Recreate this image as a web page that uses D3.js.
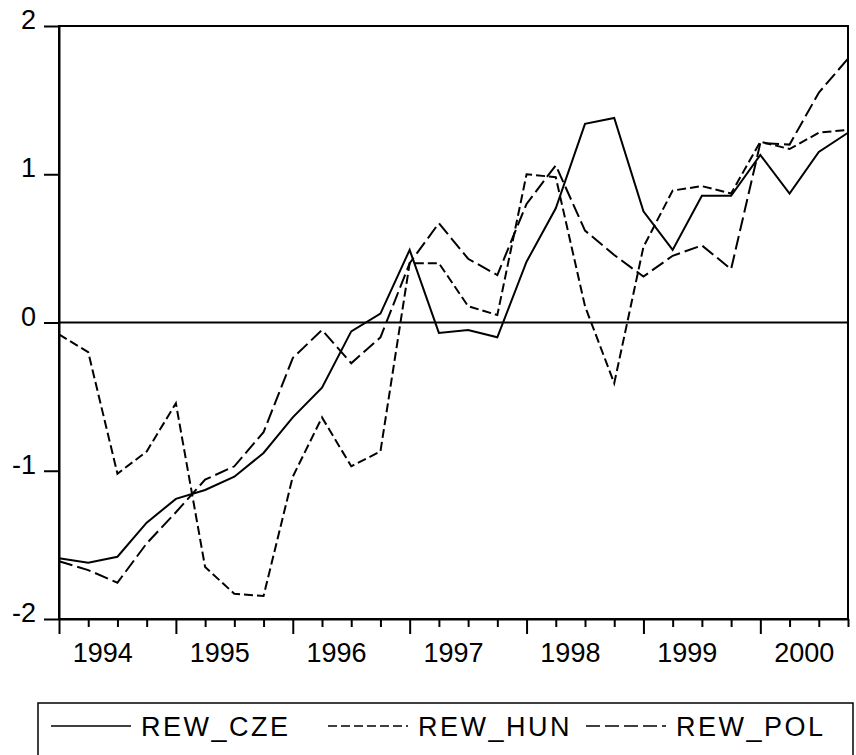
<!DOCTYPE html>
<html>
<head>
<meta charset="utf-8">
<script src="https://cdn.jsdelivr.net/npm/d3@7"></script>
<style>
  body { margin: 0; background: #fff; }
  svg text { font-family: "Liberation Sans", Arial, sans-serif; fill: #000; }
</style>
</head>
<body>
<svg id="chart" width="856" height="755"></svg>
<script>
// quarterly data 1994Q1 - 2000Q4
var years = ["1994", "1995", "1996", "1997", "1998", "1999", "2000"];
var yTicks = [-2, -1, 0, 1, 2];

var rewCze = [-1.59, -1.62, -1.58, -1.35, -1.19, -1.13, -1.04, -0.88,
              -0.64, -0.44, -0.06, 0.06, 0.49, -0.07, -0.05, -0.10,
              0.41, 0.77, 1.34, 1.38, 0.75, 0.49, 0.855, 0.855,
              1.13, 0.87, 1.15, 1.28];
var rewHun = [-0.08, -0.20, -1.02, -0.87, -0.545, -1.65, -1.83, -1.845,
              -1.04, -0.64, -0.97, -0.87, 0.40, 0.40, 0.11, 0.05,
              1.00, 0.98, 0.11, -0.41, 0.51, 0.89, 0.92, 0.87,
              1.22, 1.17, 1.28, 1.30];
var rewPol = [-1.61, -1.67, -1.755, -1.49, -1.28, -1.06, -0.97, -0.74,
              -0.24, -0.05, -0.275, -0.10, 0.40, 0.67, 0.43, 0.32,
              0.80, 1.06, 0.62, 0.455, 0.31, 0.45, 0.52, 0.36,
              1.21, 1.20, 1.55, 1.78];

var seriesNames = ["REW_CZE", "REW_HUN", "REW_POL"];
var dashes = [null, "9,4", "14,5"];

var svg = d3.select("#chart");

var plotL = 59, plotR = 848, plotT = 26, plotB = 619;

var x = d3.scaleLinear().domain([0, rewCze.length - 1]).range([plotL, plotR]);
var y = d3.scaleLinear().domain([-2, 2]).range([plotB, plotT]);

// frame
svg.append("rect")
    .attr("x", plotL)
    .attr("y", plotT)
    .attr("width", plotR - plotL)
    .attr("height", plotB - plotT)
    .attr("fill", "none")
    .attr("stroke", "black")
    .attr("stroke-width", 2);

// y axis
var yAxis = svg.append("g")
    .attr("transform", "translate(" + plotL + ",0)")
    .call(d3.axisLeft(y).tickValues(yTicks).tickSize(15).tickSizeOuter(0)
        .tickFormat(function (d) { return String(d); }));
yAxis.select(".domain").attr("stroke-width", 2);
yAxis.selectAll(".tick line").attr("stroke-width", 2);
yAxis.selectAll(".tick text")
    .attr("x", -23)
    .attr("dy", "0.1em")
    .attr("font-size", 27);

// zero line
svg.append("line")
    .attr("x1", plotL)
    .attr("x2", plotR)
    .attr("y1", y(0))
    .attr("y2", y(0))
    .attr("stroke", "black")
    .attr("stroke-width", 2);

// x axis, one tick per quarter
var xAxis = svg.append("g")
    .attr("transform", "translate(0," + plotB + ")")
    .call(d3.axisBottom(x).tickValues(d3.range(rewCze.length)).tickSizeOuter(0)
        .tickFormat(""));
xAxis.select(".domain").attr("stroke-width", 2);
xAxis.selectAll(".tick line")
    .attr("stroke-width", 2)
    .attr("y2", function (d) { return d % 4 === 0 ? 15 : 8; });

// year labels, centred over the four quarters
svg.append("g").selectAll("text")
    .data(years)
    .join("text")
    .attr("x", function (d, i) { return x(i * 4 + 1.5); })
    .attr("y", 662)
    .attr("text-anchor", "middle")
    .attr("font-size", 27)
    .text(function (d) { return d; });

// series
var line = d3.line()
    .x(function (d, i) { return x(i); })
    .y(function (d) { return y(d); });

svg.append("g").selectAll("path")
    .data([rewCze, rewHun, rewPol])
    .join("path")
    .attr("d", line)
    .attr("fill", "none")
    .attr("stroke", "black")
    .attr("stroke-width", 2)
    .attr("stroke-dasharray", function (d, i) { return dashes[i]; });

// legend
svg.append("rect")
    .attr("x", 38)
    .attr("y", 703)
    .attr("width", 815)
    .attr("height", 90)
    .attr("fill", "none")
    .attr("stroke", "black")
    .attr("stroke-width", 1.5);

var legendX = [51, 328, 586];
var legend = svg.append("g").selectAll("g")
    .data(seriesNames)
    .join("g")
    .attr("transform", function (d, i) { return "translate(" + legendX[i] + ",726)"; });

legend.append("line")
    .attr("x1", 0)
    .attr("x2", 80)
    .attr("stroke", "black")
    .attr("stroke-width", 1.5)
    .attr("stroke-dasharray", function (d, i) { return dashes[i]; });

legend.append("text")
    .attr("x", 90)
    .attr("dy", "0.36em")
    .attr("font-size", 27)
    .attr("letter-spacing", 2.5)
    .text(function (d) { return d; });
</script>
</body>
</html>
